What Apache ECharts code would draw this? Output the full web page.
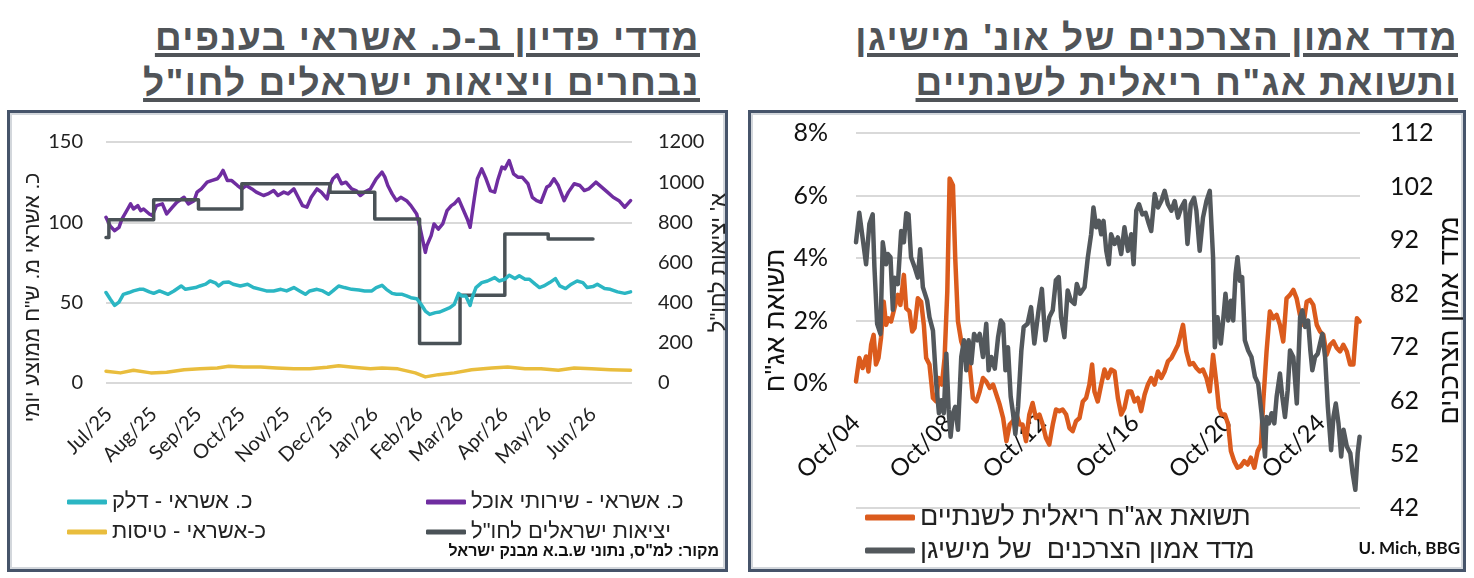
<!DOCTYPE html>
<html>
<head>
<meta charset="utf-8">
<script src="https://cdn.jsdelivr.net/npm/echarts@6/dist/echarts.min.js"></script>
<style>
body{margin:0;background:#fff;}
#page{position:relative;width:1474px;height:578px;overflow:hidden;background:#fff;}
.title{position:absolute;direction:rtl;text-align:right;white-space:nowrap;
  font:bold 37px "Liberation Sans",Arial,sans-serif;letter-spacing:1.5px;color:#505458;line-height:45px;
  text-decoration:underline;text-decoration-thickness:4px;text-underline-offset:3px;}
.box{position:absolute;box-sizing:border-box;border:3px solid #46546a;box-shadow:inset 0 0 0 2px #d3d7dc;}
#chart{position:absolute;left:0;top:0;width:1474px;height:578px;}
</style>
</head>
<body>
<div id="page">
  <div class="title" style="right:774px;top:15px">מדדי פדיון ב-כ. אשראי בענפים<br>נבחרים ויציאות ישראלים לחו"ל</div>
  <div class="title" style="right:16px;top:15px">מדד אמון הצרכנים של אונ' מישיגן<br>ותשואת אג"ח ריאלית לשנתיים</div>
  <div class="box" style="left:7px;top:110px;width:721px;height:462px"></div>
  <div class="box" style="left:748px;top:110px;width:718px;height:462px"></div>
  <div id="chart"></div>
</div>
<script>
(function(){
    var HEB = '"Liberation Sans", "DejaVu Sans", sans-serif';
    var NUM = 'Lato, "Liberation Sans", sans-serif';
    var MONTHS = ['Jan', 'Feb', 'Mar', 'Apr', 'May', 'Jun', 'Jul', 'Aug', 'Sep', 'Oct', 'Nov', 'Dec'];

    /* left panel: daily categories from 2025-06-29, points are [day index, value] */
    var leftStart = Date.UTC(2025, 5, 29);
    var leftDays = 365;
    var leftDates = [];
    for (var i = 0; i < leftDays; i++) {
        leftDates.push(new Date(leftStart + i * 86400000).toISOString().slice(0, 10));
    }
    var foodName = 'כ. אשראי - שירותי אוכל';
    var fuelName = 'כ. אשראי - דלק';
    var flightsName = 'כ-אשראי - טיסות';
    var departName = 'יציאות ישראלים לחו"ל';

    var foodService = [[0,103.1],[3,97.5],[6,94.8],[9,96.9],[11,102],[15,108.3],[17,111.5],[19,108.3],[22,110.4],[24,107.3],[26,108.3],[30,105.2],[32,104.2],[35,110.4],[39,111.5],[42,105.2],[46,109.4],[49,112.5],[54,115.6],[57,111.5],[61,113.5],[63,118.8],[66,120.8],[70,125],[73,126],[77,127.1],[79,129.2],[81,132.3],[84,126],[87,126],[91,122.9],[94,120.8],[97,122.9],[101,120.8],[104,118.8],[109,116.7],[112,117.7],[116,119.8],[119,116.7],[123,118.8],[126,117.7],[130,120.8],[133,115.6],[136,110.4],[139,109.4],[142,115.6],[146,120.8],[149,118.8],[153,114.6],[155,122.9],[157,127.1],[160,129.6],[163,124],[166,125],[170,120.8],[173,119.8],[176,116.7],[179,118.8],[183,120.8],[187,127.1],[191,131.3],[193,128.1],[195,122.9],[198,117.7],[201,113.5],[204,115.6],[208,113.5],[211,110.4],[215,105.2],[217,97.9],[219,89.6],[221,81.3],[222,85.4],[225,91.7],[227,99],[230,95.8],[233,99],[236,107.3],[239,110.4],[241,111.5],[244,114.6],[247,108.3],[250,102.1],[252,96.9],[255,115.6],[257,127.1],[260,133.3],[263,127.1],[266,119.8],[269,118.8],[271,126],[274,134.4],[276,133.3],[279,138.5],[282,130.2],[285,128.1],[288,128.1],[292,124],[295,115.6],[298,113.5],[301,112.5],[305,121.9],[307,122.9],[310,127.1],[313,122.9],[317,113.5],[320,118.8],[324,124],[328,122.9],[331,119.8],[334,120.8],[339,125],[343,121.9],[347,118.8],[351,115.6],[355,113.5],[359,109.4],[361,111.5],[363,113.5]];

    var fuel = [[0,56.3],[3,52.1],[6,48.3],[9,50.4],[12,55.2],[16,56.3],[19,57.3],[23,58.3],[26,58.3],[30,56.7],[33,55.8],[37,57.3],[40,56.3],[43,55.2],[47,57.3],[52,60.4],[55,58.3],[58,58.8],[62,59.4],[65,60.4],[69,61.5],[72,63.5],[76,62.1],[78,60.4],[81,62.5],[85,62.9],[88,61.5],[93,60.4],[98,61.5],[102,59.4],[107,58.3],[111,57.3],[116,57.3],[121,58.3],[125,57.3],[130,59.4],[134,57.3],[138,55.2],[141,57.3],[146,58.3],[150,57.3],[154,55.2],[157,57.3],[161,60.4],[165,59.4],[170,58.3],[175,57.9],[179,57.3],[184,57.3],[187,59.4],[191,60.8],[194,58.3],[198,55.8],[201,55.2],[205,55.2],[208,54.2],[211,53.1],[215,52.5],[218,49],[221,44.8],[224,42.7],[228,43.8],[231,44.2],[234,45.4],[238,46.9],[241,49],[244,55.8],[246,54.2],[249,54.2],[252,48.3],[253,52.1],[256,59.4],[260,62.5],[264,63.5],[269,65.6],[272,63.5],[276,64.6],[279,67.1],[283,65],[286,66.7],[290,64.6],[293,64.6],[297,61.5],[300,59.4],[303,60.4],[307,62.5],[311,65],[314,60.4],[318,58.8],[322,61.5],[326,63.5],[330,62.5],[333,59.4],[337,60],[340,61.5],[345,58.8],[349,58.3],[354,56.7],[359,55.8],[363,56.7]];

    var flights = [[0,7.3],[10,6.3],[19,7.9],[31,6.3],[42,6.7],[54,8.3],[65,8.8],[77,9.4],[85,10.4],[95,10],[107,10],[118,9.4],[130,8.8],[141,8.8],[153,9.8],[161,10.8],[171,9.8],[183,8.8],[191,9.4],[202,8.8],[214,6.3],[221,3.8],[230,5.2],[241,6.3],[253,8.3],[267,9.4],[278,10],[290,8.8],[301,8.8],[313,7.9],[324,9.4],[336,8.8],[349,8.3],[363,7.9]];

    /* monthly departures (thousands), placed on the first day of each month */
    var departures = [[0,725],[2,813],[33,913],[64,867],[94,992],[125,992],[155,950],[186,817],[217,197],[245,437],[276,742],[306,717],[337,717]];

    /* right panel: points are [months since Oct 2004, value] */
    var yieldName = 'תשואת אג"ח ריאלית לשנתיים';
    var sentName = 'מדד אמון הצרכנים  של מישיגן';

    var realYield = [[0,0.05],[1.7,0.8],[3.4,0.48],[5.2,0.85],[6.4,0.37],[7.8,1.22],[9.1,1.54],[10.3,0.59],[11.6,0.8],[12.9,1.44],[14.3,2.6],[15.5,1.86],[16.7,2.07],[18.1,1.97],[19.8,2.39],[21.6,2.82],[22.9,2.5],[24.7,3.46],[25.9,2.39],[27.6,2.29],[29,1.65],[30.2,1.76],[31.9,2.71],[33.6,2.6],[35,1.86],[36.2,0.8],[37.9,0.59],[39.7,-0.48],[41.4,-0.59],[42.6,0.16],[44.3,-0.05],[45.7,0.8],[47.1,2.93],[48.3,6.54],[50,6.33],[51.2,3.99],[52.6,1.97],[54.3,1.33],[56.9,0.9],[58.6,0.59],[60.3,-0.48],[62.1,-0.59],[63.8,-0.27],[65.5,0.16],[67.2,0.05],[69,-0.16],[70.7,-0.05],[72.4,-0.37],[74.1,-0.69],[75.9,-1.12],[77.6,-1.86],[79.3,-1.33],[81,-1.22],[82.8,-1.01],[84.5,-1.33],[85.9,-1.33],[87.7,-1.86],[89.4,-1.01],[91.1,-0.64],[92.8,-1.12],[94.6,-1.01],[96.3,-1.33],[98,-1.76],[99.7,-1.97],[101.5,-1.33],[103.2,-0.85],[104.9,-0.9],[106.6,-0.85],[108.4,-1.01],[110.1,-1.44],[111.8,-1.54],[113.5,-1.22],[115.3,-1.12],[117,-0.59],[118.7,-0.48],[120.4,-0.05],[121.8,0.59],[123,-0.27],[124.7,-0.59],[126.5,-0.05],[128.2,0.43],[129.9,0.16],[131.6,0.43],[133.4,0.37],[135.1,-0.48],[136.8,-1.01],[138.5,-0.8],[140.3,-0.27],[142,-0.27],[143.7,-0.59],[145.4,-0.48],[147.1,-0.9],[148.9,-0.37],[150.6,-0.05],[152.3,0.16],[154,-0.05],[155.8,0.37],[157.5,0.16],[159.2,0.37],[160.9,0.69],[162.7,0.8],[164.4,1.01],[166.1,1.22],[168.7,1.86],[170.4,1.01],[172.2,0.59],[173.9,0.64],[175.6,0.48],[177.3,0.37],[179,0.43],[180.8,0.16],[182.5,-0.27],[184.2,0.9],[186,-0.05],[187.2,-0.8],[188.5,-1.01],[190.3,-1.01],[192,-1.33],[193.4,-2.18],[195.1,-2.5],[196.8,-2.71],[198.5,-2.66],[200.3,-2.5],[202,-2.61],[203.7,-2.39],[205.5,-2.71],[207.2,-2.18],[208.9,-1.97],[210.1,-0.59],[211.8,1.01],[213.5,2.29],[215.3,2.07],[217,2.18],[218.7,1.86],[220.4,1.33],[222.1,2.71],[223.9,2.82],[225.6,2.98],[227.3,2.71],[229,2.18],[230.8,1.86],[232.5,2.6],[234.2,2.66],[235.9,2.5],[237.7,1.86],[239.4,1.65],[241.1,1.54],[242.8,0.9],[244.6,1.22],[246.3,1.33],[248,1.12],[249.7,1.01],[251.4,1.22],[253.2,1.01],[254.9,0.59],[256.6,0.59],[258.4,2.07],[259.8,1.97]];

    var sentiment = [[0,91.6],[1.7,97.1],[5.2,87.5],[6.9,95],[8.6,96.8],[9.5,87],[10.9,76.4],[12.6,74.5],[13.8,91.6],[15.5,87.5],[16.4,89.4],[17.8,88.8],[19,79],[19.8,85],[21.6,83.8],[23.3,93.7],[24.7,91.6],[25.9,97],[27.1,96.8],[28.4,88.8],[30.2,87],[31.9,85],[33.1,90.3],[34.5,83.2],[36.7,80.7],[37.9,77.6],[39.7,75.1],[41.4,65.2],[42.8,59.7],[44,62.1],[45.3,59.7],[46.6,70.8],[47.8,60.3],[48.8,55.3],[50,59.7],[51.2,60.9],[52.6,56.6],[54.3,70.2],[55.7,73.3],[56.9,67.7],[58.1,73.3],[59.5,69],[60.9,74.5],[62.6,73.3],[63.8,74.5],[65.5,70.2],[67.2,76.4],[68.4,67.7],[69.8,70.2],[71.6,68],[73.3,73.9],[74.7,77],[75.9,76.4],[77.1,67.7],[78.4,72],[79.8,62.8],[81,59.7],[82.2,55.8],[83.6,60.9],[85.3,71.4],[86.5,75.8],[88.5,76.4],[90.3,79.5],[92,72.7],[94.2,78.9],[95.9,82.9],[97.7,73.3],[99.7,77.6],[101.5,78.9],[103.1,84.5],[104.6,85.1],[105.8,77.6],[107.5,73.9],[109.2,82.6],[110.9,80.7],[112.7,80.1],[113.9,83.8],[115.6,82],[117.9,83.2],[119.6,88.8],[121.3,93.1],[122.5,98.1],[123.9,94.4],[125.3,95.6],[126.5,93.1],[127.7,95.6],[129.1,90],[130.4,87.5],[131.6,93.1],[133.4,91.3],[135.1,92.5],[136.8,89.4],[138.5,94.4],[140.3,90],[142,93.1],[143.2,87.5],[144.6,97.5],[146,98.7],[147.7,96.8],[149.4,97.1],[151.1,95],[152.3,93.7],[154.1,100.6],[155.8,98.1],[157.5,99.3],[159.2,101.2],[160.9,98.7],[162.7,97.5],[164.4,99.3],[166.1,96.2],[167.8,98.1],[169.6,99.3],[171,91.3],[172.7,98.7],[174.4,99.9],[175.6,97.5],[177.3,90],[179,96.2],[180.8,99.3],[182.5,101.2],[184.2,88.8],[185.1,72],[186.5,77.6],[188.2,72.7],[189.4,77],[190.6,82],[192,77],[193.4,80.7],[194.6,77],[195.8,85.7],[196.8,88.8],[198,84.4],[199.2,85.1],[200.6,73.3],[202.3,71.4],[204,70.2],[205.8,66.5],[207.5,65.2],[209.2,59.7],[211,51.6],[211.8,59],[213,57.8],[214.4,59.7],[215.8,57.8],[217,62.8],[218.7,67.1],[219.9,62.8],[221.3,59],[222.7,64],[223.9,71.4],[225.6,70.2],[227.4,61.5],[229.1,77.6],[230.3,78.9],[231.7,75.8],[233.2,77],[234.4,71.4],[235.4,67.7],[236.8,70.2],[238.2,70.8],[239.4,72.7],[240.6,74.5],[242,70.2],[243.4,60.9],[245.1,52.8],[246.3,59],[247.5,61.5],[248.9,57.8],[250.3,51.6],[251.5,56.6],[253.2,53.5],[255,52.2],[256.2,48.5],[257.6,45.4],[258.8,52.2],[259.8,55.3]];

    var gridColor = '#d9d9d9';

    function lineSeries(name, data, color, width, xi, yi) {
        return {
            name: name, type: 'line', data: data, xAxisIndex: xi, yAxisIndex: yi,
            showSymbol: false, symbol: 'none', smooth: false,
            lineStyle: { color: color, width: width, cap: 'round', join: 'round' },
            itemStyle: { color: color },
            emphasis: { disabled: true }
        };
    }

    var departSeries = lineSeries(departName, departures, '#4a5257', 3.5, 0, 1);
    departSeries.step = 'end';

    var option = {
        animation: false,
        textStyle: { fontFamily: NUM },
        grid: [
            { left: 106, top: 142, width: 526, height: 241, outerBoundsMode: 'none' },
            { left: 856, top: 133, width: 504, height: 375, outerBoundsMode: 'none' }
        ],
        legend: [{
            data: [foodName, departName], orient: 'vertical', left: 421, top: 486,
            icon: 'roundRect', itemWidth: 40, itemHeight: 5, itemGap: 8, selectedMode: false,
            textStyle: { fontFamily: HEB, fontSize: 22, color: '#222' }
        }, {
            data: [fuelName, flightsName], orient: 'vertical', left: 62, top: 486,
            icon: 'roundRect', itemWidth: 40, itemHeight: 5, itemGap: 8, selectedMode: false,
            textStyle: { fontFamily: HEB, fontSize: 22, color: '#222' }
        }, {
            data: [yieldName, sentName], orient: 'vertical', left: 860, top: 499,
            icon: 'roundRect', itemWidth: 50, itemHeight: 6, itemGap: 6, selectedMode: false,
            textStyle: { fontFamily: HEB, fontSize: 27, color: '#222' }
        }],
        graphic: [{
            type: 'text', right: 755, top: 544,
            style: { text: 'מקור: למ"ס, נתוני ש.ב.א מבנק ישראל', font: 'bold 16px ' + HEB, fill: '#111' }
        }, {
            type: 'text', right: 14, top: 540,
            style: { text: 'U. Mich, BBG', font: 'bold 17px ' + NUM, fill: '#111' }
        }],
        xAxis: [{
            type: 'category', gridIndex: 0, data: leftDates, boundaryGap: false,
            axisLine: { show: false }, axisTick: { show: false }, splitLine: { show: false },
            axisLabel: {
                rotate: 45, margin: 28, fontSize: 20, color: '#222', fontFamily: NUM,
                interval: function (idx, val) { return val.slice(8) === '01'; },
                formatter: function (val) {
                    return MONTHS[parseInt(val.slice(5, 7), 10) - 1] + '/' + val.slice(2, 4);
                }
            }
        }, {
            type: 'value', gridIndex: 1, min: 0, max: 260, interval: 48,
            axisLine: { show: false, onZero: false },
            axisTick: { show: false }, splitLine: { show: false },
            axisLabel: {
                rotate: 45, margin: -89, fontSize: 24, color: '#111', fontFamily: NUM, showMaxLabel: false,
                formatter: function (v) {
                    if (v % 48 !== 0) return '';
                    var m = 9 + v;
                    var y = 2004 + Math.floor(m / 12);
                    return MONTHS[m % 12] + '/' + String(y).slice(2);
                }
            }
        }],
        yAxis: [{
            type: 'value', gridIndex: 0, min: 0, max: 150, interval: 50,
            axisLine: { show: false }, axisTick: { show: false },
            splitLine: { lineStyle: { color: gridColor, width: 2 } },
            axisLabel: { fontSize: 20, margin: 23, color: '#222', fontFamily: NUM },
            name: 'כ. אשראי מ. ש"ח ממוצע יומי', nameLocation: 'middle', nameRotate: 90, nameGap: 62,
            nameTextStyle: { fontFamily: HEB, fontSize: 21, color: '#222', padding: [0, 70, 0, 0] }
        }, {
            type: 'value', gridIndex: 0, position: 'right', min: 0, max: 1200, interval: 200,
            axisLine: { show: false }, axisTick: { show: false }, splitLine: { show: false },
            axisLabel: {
                fontSize: 20, margin: 26, color: '#222', fontFamily: NUM,
                formatter: function (v) { return String(v); }
            },
            name: 'א\' יציאות לחו"ל', nameLocation: 'middle', nameRotate: 90, nameGap: 62,
            nameTextStyle: { fontFamily: HEB, fontSize: 22, color: '#222' }
        }, {
            type: 'value', gridIndex: 1, min: -4, max: 8, interval: 2,
            axisLine: { show: false }, axisTick: { show: false },
            splitLine: { lineStyle: { color: gridColor, width: 2 } },
            axisLabel: {
                fontSize: 25, margin: 28, color: '#111', fontFamily: NUM,
                formatter: function (v) { return v < 0 ? '' : v + '%'; }
            },
            name: 'תשואת אג"ח', nameLocation: 'middle', nameRotate: 90, nameGap: 62,
            nameTextStyle: { fontFamily: HEB, fontSize: 27, color: '#111' }
        }, {
            type: 'value', gridIndex: 1, position: 'right', min: 42, max: 112, interval: 10,
            axisLine: { show: false }, axisTick: { show: false }, splitLine: { show: false },
            axisLabel: { fontSize: 25, margin: 30, color: '#111', fontFamily: NUM },
            name: 'מדד אמון הצרכנים', nameLocation: 'middle', nameRotate: 90, nameGap: 74,
            nameTextStyle: { fontFamily: HEB, fontSize: 27, color: '#111' }
        }],
        series: [
            lineSeries(foodName, foodService, '#6f2da0', 3.5, 0, 0),
            departSeries,
            lineSeries(fuelName, fuel, '#2bb6c3', 3.5, 0, 0),
            lineSeries(flightsName, flights, '#e9bd3d', 3.5, 0, 0),
            lineSeries(yieldName, realYield, '#db5b1d', 4.5, 1, 2),
            lineSeries(sentName, sentiment, '#53585c', 4.5, 1, 3)
        ]
    };

    var chart = echarts.init(document.getElementById('chart'), null, { renderer: 'canvas' });
    chart.setOption(option);
})();
</script>
</body>
</html>
